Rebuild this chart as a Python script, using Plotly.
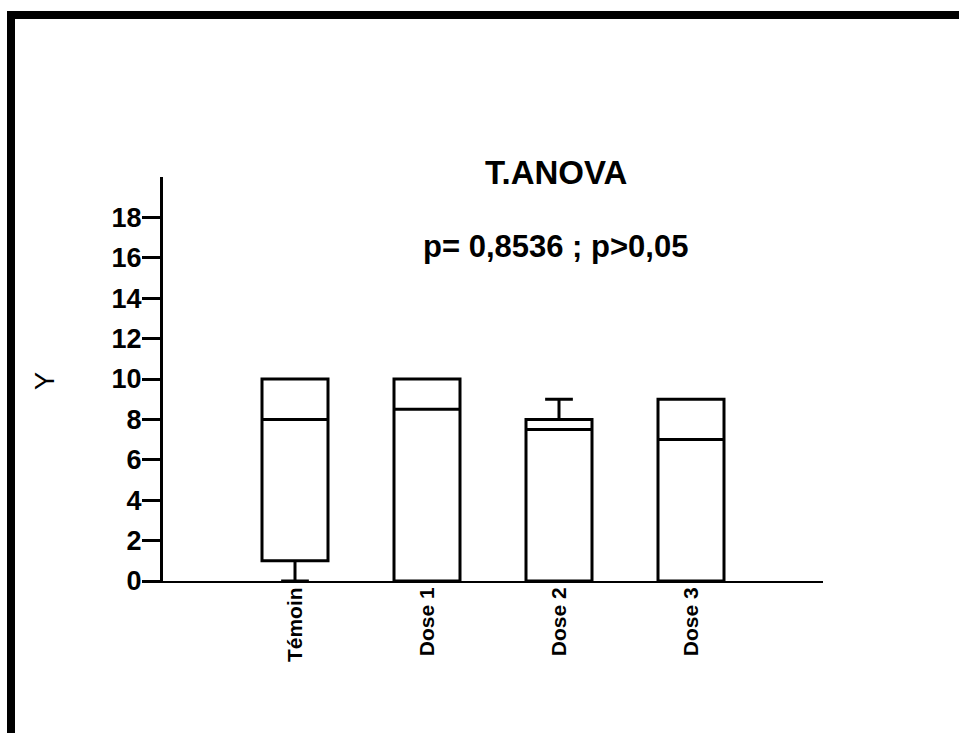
import plotly.graph_objects as go

categories = ["Témoin", "Dose 1", "Dose 2", "Dose 3"]
lower_fence = [0, 0, 0, 0]
q1 = [1, 0, 0, 0]
median = [8, 8.5, 7.5, 7]
q3 = [10, 10, 8, 9]
upper_fence = [10, 10, 9, 9]
y_ticks = [0, 2, 4, 6, 8, 10, 12, 14, 16, 18]
title_text = "T.ANOVA"
subtitle_text = "p= 0,8536 ; p>0,05"
y_label = "Y"

FONT = "Liberation Sans, Arial, sans-serif"

fig = go.Figure()
fig.add_trace(go.Box(
    x=categories,
    q1=q1, median=median, q3=q3,
    lowerfence=lower_fence, upperfence=upper_fence,
    fillcolor="white",
    line=dict(color="black", width=3),
    width=0.5,
    whiskerwidth=0.42,
    boxpoints=False,
    hoverinfo="skip",
    showlegend=False,
))

fig.update_layout(
    width=959, height=733,
    margin=dict(l=163, r=136, t=177, b=152),
    paper_bgcolor="white",
    plot_bgcolor="white",
    font=dict(family=FONT, color="black"),
    showlegend=False,
    xaxis=dict(
        type="category",
        range=[-1, 4],
        showline=True, linecolor="black", linewidth=2,
        showgrid=False, zeroline=False,
        ticks="",
        tickangle=-90,
        ticklabelstandoff=-4,
        tickfont=dict(size=21, family=FONT, color="black", weight="bold"),
    ),
    yaxis=dict(
        range=[0, 20],
        showline=True, linecolor="black", linewidth=3,
        showgrid=False, zeroline=False,
        tickvals=y_ticks,
        ticks="outside", ticklen=18, tickwidth=3, tickcolor="black",
        ticklabelstandoff=-5,
        tickfont=dict(size=27, family=FONT, color="black", weight="bold"),
    ),
    annotations=[
        dict(text="<b>%s</b>" % title_text, xref="paper", yref="paper",
             x=0.595, y=1.01, xanchor="center", yanchor="middle",
             showarrow=False, font=dict(size=33, family=FONT, color="black")),
        dict(text="<b>%s</b>" % subtitle_text, xref="paper", yref="paper",
             x=0.595, y=0.828, xanchor="center", yanchor="middle",
             showarrow=False, font=dict(size=31, family=FONT, color="black")),
        dict(text=y_label, xref="paper", yref="paper",
             x=-0.179, y=0.495, xanchor="center", yanchor="middle",
             textangle=-90, showarrow=False,
             font=dict(size=27, family=FONT, color="black")),
    ],
    shapes=[
        dict(type="line", xref="paper", yref="paper",
             x0=-0.2303, x1=-0.2303, y0=1.411, y1=-0.40,
             line=dict(color="black", width=8)),
        dict(type="line", xref="paper", yref="paper",
             x0=-0.2363, x1=1.23, y0=1.401, y1=1.401,
             line=dict(color="black", width=8)),
    ],
)

fig.write_html("out.html", config={"displayModeBar": False})
